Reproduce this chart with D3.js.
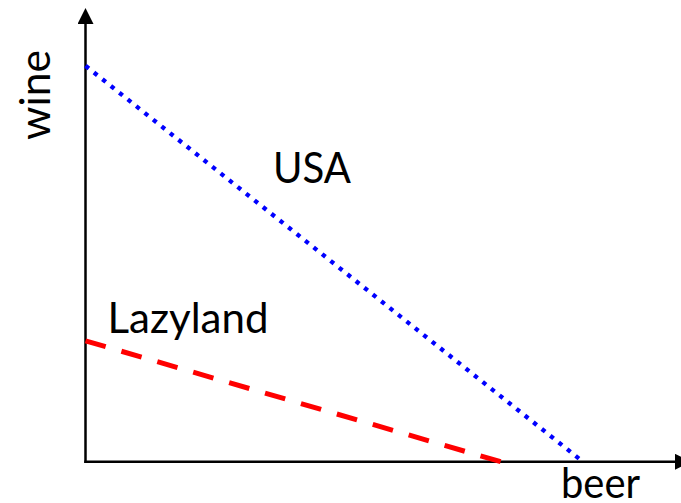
<!DOCTYPE html>
<html>
<head>
<meta charset="utf-8">
<script src="https://cdn.jsdelivr.net/npm/d3@7"></script>
<style>
html,body{margin:0;padding:0;background:#fff;}
svg{display:block;}
</style>
</head>
<body>
<svg id="chart" width="681" height="503"></svg>
<script>
// Data (arbitrary units)
const countries = ["USA", "Lazyland"];
const wineIntercepts = [79.2, 24.2];   // max wine when beer = 0
const beerIntercepts = [99.5, 83.1];   // max beer when wine = 0
const lineColors = ["#0000ff", "#ff0000"];
const axisLabels = {x: "beer", y: "wine"};
const labelPos = [[37.5, 55.8], [4.4, 25.8]]; // [beer, wine] of label baseline start

const svg = d3.select("#chart");
const x = d3.scaleLinear().domain([0, 100]).range([85.5, 585.5]);
const y = d3.scaleLinear().domain([0, 100]).range([461.8, -38.2]);

const font = "Lato, 'Open Sans', sans-serif";

// arrow marker
const defs = svg.append("defs");
defs.append("marker")
  .attr("id", "arrow")
  .attr("viewBox", "0 0 16 16")
  .attr("refX", 0).attr("refY", 8)
  .attr("markerWidth", 16).attr("markerHeight", 16)
  .attr("markerUnits", "userSpaceOnUse")
  .attr("orient", "auto")
  .append("path").attr("d", "M0,0L16,8L0,16Z").attr("fill", "#000");

// axes
svg.append("line")
  .attr("x1", x(0)).attr("y1", y(0) + 1.2)
  .attr("x2", x(0)).attr("y2", 24)
  .attr("stroke", "#000").attr("stroke-width", 2.5)
  .attr("marker-end", "url(#arrow)");
svg.append("line")
  .attr("x1", x(0) - 1.2).attr("y1", y(0))
  .attr("x2", 675).attr("y2", y(0))
  .attr("stroke", "#000").attr("stroke-width", 2.4)
  .attr("marker-end", "url(#arrow)");

// PPF lines
const dashes = ["4.3,6.5", "21,16.4"];
const widths = [4.3, 5];
countries.forEach((c, i) => {
  svg.append("path")
    .attr("d", d3.line()([[x(0), y(wineIntercepts[i])], [x(beerIntercepts[i]), y(0)]]))
    .attr("fill", "none")
    .attr("stroke", lineColors[i])
    .attr("stroke-width", widths[i])
    .attr("stroke-dasharray", dashes[i]);
});

// labels
const labelWidths = [78, 161];
countries.forEach((c, i) => {
  svg.append("text")
    .attr("x", x(labelPos[i][0])).attr("y", y(labelPos[i][1]))
    .attr("font-family", font).attr("font-size", 42)
    .attr("textLength", labelWidths[i]).attr("lengthAdjust", "spacingAndGlyphs")
    .attr("fill", "#000")
    .text(c);
});

svg.append("text")
  .attr("x", 561).attr("y", 498)
  .attr("font-family", font).attr("font-size", 42)
  .attr("textLength", 79).attr("lengthAdjust", "spacingAndGlyphs")
  .text(axisLabels.x);

svg.append("text")
  .attr("transform", "translate(50,95) rotate(-90)")
  .attr("text-anchor", "middle")
  .attr("font-family", font).attr("font-size", 42)
  .attr("textLength", 90).attr("lengthAdjust", "spacingAndGlyphs")
  .text(axisLabels.y);
</script>
</body>
</html>
